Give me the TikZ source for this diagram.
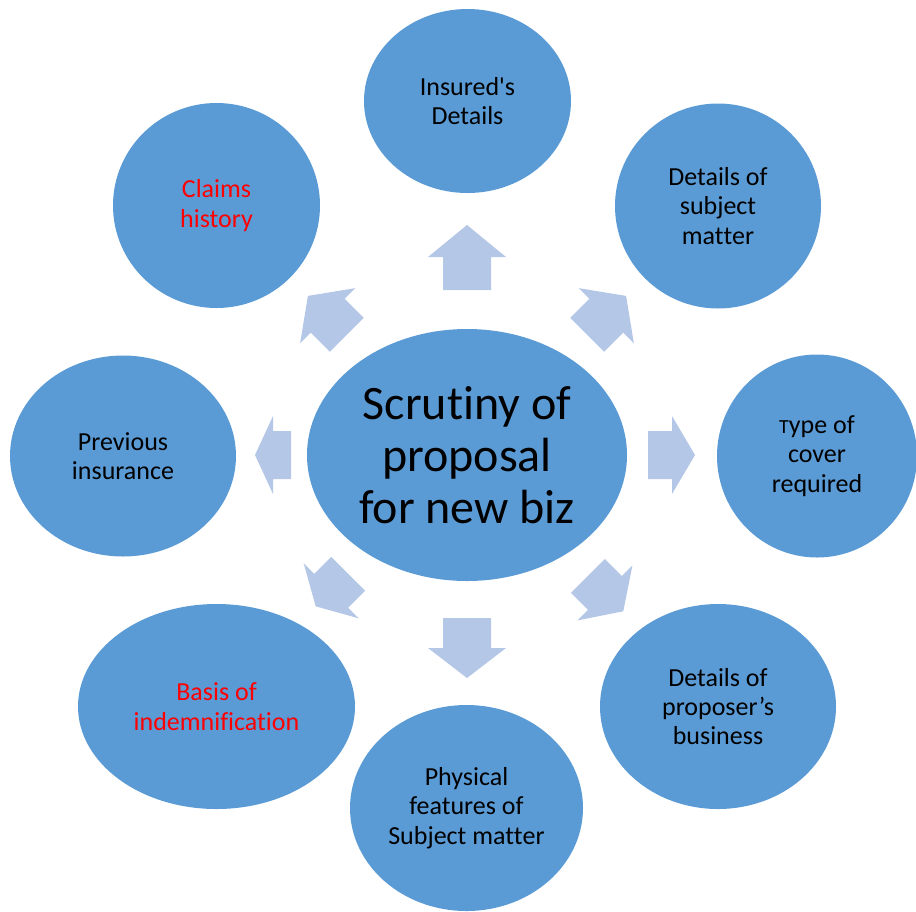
\documentclass[tikz,border=0pt]{standalone}
\usepackage{fontspec}
\setmainfont{Carlito}[Ligatures={TeX,NoCommon}]
\usetikzlibrary{shapes.geometric}
\definecolor{bubble}{RGB}{91,155,213}
\definecolor{pale}{RGB}{180,199,231}
\definecolor{alert}{RGB}{255,0,0}
\tikzset{every picture/.style={line width=0.75pt}}
\newcommand{\nolig}{\kern0pt}
% block arrow out of the hub: angle, start, tip, head length
\newcommand{\radarrow}[4]{%
	\fill[pale, shift={(hub.center)}, rotate=#1] (#2,-24) -- ({#3-#4},-24) -- ({#3-#4},-39) -- (#3,0) -- ({#3-#4},39) -- ({#3-#4},24) -- (#2,24) -- cycle;}

\begin{document}
\begin{tikzpicture}[x=0.75pt,y=0.75pt,yscale=-1,
	bub/.style 2 args={ellipse, fill=bubble, inner sep=0pt, align=center, text=black,
		minimum width=#1*0.75pt, minimum height=#2*0.75pt, font=\fontsize{19.5}{22}\selectfont}]
	\useasboundingbox (0,0) rectangle (916,911);

	%Hub
	\node[bub={320}{252}, font=\fontsize{36}{39}\selectfont] (hub) at (467,455) {Scrut\nolig iny of\\proposal\\for new biz};

	%Outer bubbles
	\node[bub={207}{184}] (insured) at (467.5,101) {Insured\textquotesingle s\\Details};
	\node[bub={206}{205}] (subject) at (718,206) {Details of\\subject\\mat\nolig t\nolig er};
	\node[bub={200}{203}] (cover) at (817,456) {{\fontsize{15}{22}\selectfont T}ype of\\cover\\required};
	\node[bub={236}{205}] (business) at (718,706.5) {Details of\\proposer’s\\business};
	\node[bub={233}{206}] (physical) at (466.5,808) {Physical\\features of\\Subject mat\nolig t\nolig er};
	\node[bub={277}{205}, text=alert] (basis) at (216.5,706.5) {Basis of\\indemnif\nolig icat\nolig ion};
	\node[bub={226}{201}] (previous) at (123,456) {Previous\\insurance};
	\node[bub={207}{205}, text=alert] (claims) at (216.5,205.5) {Claims\\history};

	%Arrows
	\radarrow{-90}{165}{230}{32}
	\radarrow{-45}{170}{225}{28}
	\radarrow{0}{181}{228}{23}
	\radarrow{45}{171}{221}{26}
	\radarrow{90}{163}{223}{30}
	\radarrow{135}{168}{214}{22}
	\radarrow{180}{176}{212}{18}
	\radarrow{-135}{170}{225}{28}

\end{tikzpicture}
\end{document}
